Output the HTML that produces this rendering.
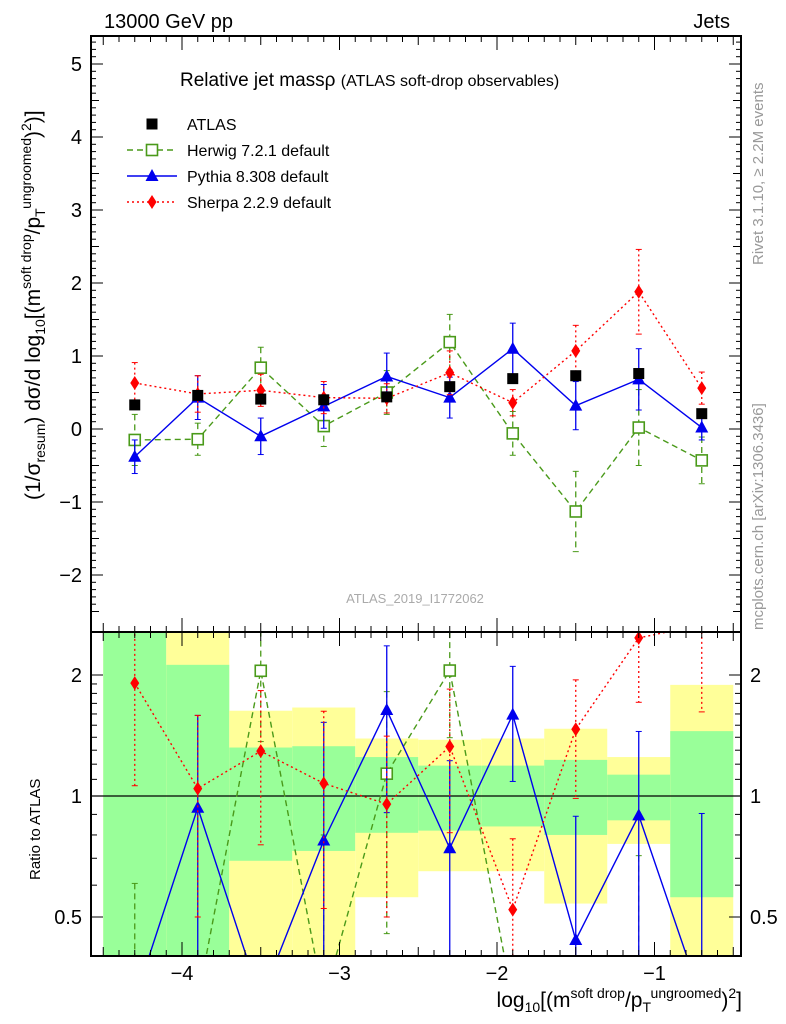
<!DOCTYPE html>
<html><head><meta charset="utf-8"><style>
html,body{margin:0;padding:0;background:#fff;width:786px;height:1024px;overflow:hidden}
svg{display:block;font-family:"Liberation Sans",sans-serif}
</style></head><body>
<svg id="c" width="786" height="1024" xmlns="http://www.w3.org/2000/svg" style="overflow:hidden">
<defs>
<clipPath id="mainClip"><rect x="91" y="36" width="650" height="596"/></clipPath>
<clipPath id="ratioClip"><rect x="91" y="633" width="650" height="323"/></clipPath>
</defs>
<g id="bands" clip-path="url(#ratioClip)"></g>
<g id="grid"></g>
<g id="mainSeries" clip-path="url(#mainClip)"></g>
<g id="ratioSeries" clip-path="url(#ratioClip)"></g>
<g id="axes"></g>
<text x="104" y="28" font-size="20">13000 GeV pp</text>
<text x="730" y="28" font-size="20" text-anchor="end">Jets</text>
<text x="180" y="86" font-size="19">Relative jet massρ <tspan font-size="16">(ATLAS soft-drop observables)</tspan></text>
<text x="415" y="603" font-size="13" fill="#aaa" text-anchor="middle">ATLAS_2019_I1772062</text>
<text transform="translate(763,265) rotate(-90)" font-size="15" fill="#999">Rivet 3.1.10, ≥ 2.2M events</text>
<text transform="translate(763,630) rotate(-90)" font-size="15" fill="#999">mcplots.cern.ch [arXiv:1306.3436]</text>
<text transform="translate(40,500) rotate(-90)" font-size="21">(1/σ<tspan font-size="14" dy="5">resum</tspan><tspan dy="-5">) dσ/d log</tspan><tspan font-size="14" dy="5">10</tspan><tspan dy="-5">[(m</tspan><tspan font-size="14" dy="-9">soft drop</tspan><tspan dy="9">/p</tspan><tspan font-size="14" dy="5">T</tspan><tspan font-size="14" dy="-14">ungroomed</tspan><tspan dy="9">)</tspan><tspan font-size="14" dy="-9">2</tspan><tspan dy="9">)]</tspan></text>
<text transform="translate(40,880) rotate(-90)" font-size="15">Ratio to ATLAS</text>
<text x="742" y="1007" font-size="21" text-anchor="end">log<tspan font-size="14" dy="5">10</tspan><tspan dy="-5">[(m</tspan><tspan font-size="14" dy="-9">soft drop</tspan><tspan dy="9">/p</tspan><tspan font-size="14" dy="5">T</tspan><tspan font-size="14" dy="-14">ungroomed</tspan><tspan dy="9">)</tspan><tspan font-size="14" dy="-9">2</tspan><tspan dy="9">]</tspan></text>
<g id="legend"></g>
</svg>
<script>
const xCenters=[-4.3,-3.9,-3.5,-3.1,-2.7,-2.3,-1.9,-1.5,-1.1,-0.7];
const binEdges=[-4.5,-4.1,-3.7,-3.3,-2.9,-2.5,-2.1,-1.7,-1.3,-0.9,-0.5];
const atlasVals=[0.33,0.46,0.41,0.40,0.44,0.58,0.69,0.73,0.76,0.21];
const herwigVals=[-0.15,-0.14,0.84,0.04,0.50,1.19,-0.06,-1.13,0.02,-0.43];
const herwigErr=[0.35,0.22,0.28,0.28,0.30,0.38,0.30,0.55,0.52,0.32];
const pythiaVals=[-0.38,0.43,-0.10,0.31,0.72,0.43,1.10,0.32,0.68,0.02];
const pythiaErr=[0.23,0.30,0.25,0.30,0.32,0.28,0.35,0.33,0.42,0.17];
const sherpaVals=[0.63,0.48,0.53,0.43,0.42,0.77,0.36,1.07,1.88,0.56];
const sherpaErr=[0.28,0.25,0.22,0.22,0.20,0.30,0.18,0.35,0.58,0.22];
const greenLo=[0.1,0.1,0.69,0.73,0.81,0.82,0.84,0.80,0.87,0.56];
const greenHi=[10,2.12,1.32,1.33,1.25,1.19,1.19,1.23,1.13,1.45];
const yellowLo=[0.1,0.1,0.1,0.1,0.56,0.65,0.65,0.54,0.76,0.1];
const yellowHi=[10,10,1.63,1.66,1.39,1.38,1.39,1.47,1.25,1.89];
const mainTicks=[-2,-1,0,1,2,3,4,5];
const ratioTicks=[0.5,1,2];
const xTicks=[-4,-3,-2,-1];

const NS="http://www.w3.org/2000/svg";
const X=v=>182+(v+4)*157.5;
const clampY=y=>Math.max(0,Math.min(1000,y));
const Y=v=>clampY(429-v*73);
const R=v=>v>0?clampY(796-Math.log2(v)*121):1000;
function el(tag,attrs,parent){const e=document.createElementNS(NS,tag);for(const k in attrs)e.setAttribute(k,attrs[k]);parent.appendChild(e);return e;}
const bands=document.getElementById('bands'),axes=document.getElementById('axes'),grid=document.getElementById('grid');
const ms=document.getElementById('mainSeries'),rs=document.getElementById('ratioSeries'),lg=document.getElementById('legend');

for(let i=0;i<xCenters.length;i++){
  const x0=X(binEdges[i]),x1=X(binEdges[i+1]);
  const y=el('rect',{x:x0,y:R(yellowHi[i]),width:x1-x0,height:R(yellowLo[i])-R(yellowHi[i]),fill:'#ffff99'},bands);
  
  
  const g=el('rect',{x:x0,y:R(greenHi[i]),width:x1-x0,height:R(greenLo[i])-R(greenHi[i]),fill:'#99ff99'},bands);
  
  
}
el('line',{x1:91,x2:741,y1:R(1),y2:R(1),stroke:'#000','stroke-width':1.3},grid);

el('rect',{x:91,y:36,width:650,height:596,fill:'none',stroke:'#000','stroke-width':2},axes);
el('rect',{x:91,y:632,width:650,height:324,fill:'none',stroke:'#000','stroke-width':2},axes);
for(let v=-2.5;v<=5.4;v+=0.1){const yy=429-v*73;if(yy<36||yy>632)continue;const major=Math.abs(v-Math.round(v))<0.01;const minor5=Math.abs(v*2-Math.round(v*2))<0.01;
 const L=major?12:(minor5?8:5);el('line',{x1:91,x2:91+L,y1:yy,y2:yy,stroke:'#000'},axes);el('line',{x1:741,x2:741-L,y1:yy,y2:yy,stroke:'#000'},axes);}
mainTicks.forEach(v=>{const t=el('text',{x:82,y:Y(v)+7,'font-size':20,'text-anchor':'end'},axes);t.textContent=v<0?'−'+(-v):v;});
[0.4,0.5,0.6,0.7,0.8,0.9,1,2].forEach(v=>{const yy=R(v);const L=(v==0.5||v==1||v==2)?12:6;el('line',{x1:91,x2:91+L,y1:yy,y2:yy,stroke:'#000'},axes);el('line',{x1:741,x2:741-L,y1:yy,y2:yy,stroke:'#000'},axes);});
[1.1,1.2,1.3,1.4,1.5,1.6,1.7,1.8,1.9].forEach(v=>{const yy=R(v);el('line',{x1:91,x2:97,y1:yy,y2:yy,stroke:'#000'},axes);el('line',{x1:741,x2:735,y1:yy,y2:yy,stroke:'#000'},axes);});
ratioTicks.forEach(v=>{const t=el('text',{x:82,y:R(v)+7,'font-size':20,'text-anchor':'end'},axes);t.textContent=v;
 const t2=el('text',{x:750,y:R(v)+7,'font-size':20},axes);t2.textContent=v;});
for(let v=-4.5;v<=-0.45;v+=0.1){const xx=X(v);if(xx<91||xx>741)continue;const major=Math.abs(v-Math.round(v))<0.01;const mid=Math.abs(v*2-Math.round(v*2))<0.01;const L=major?14:(mid?9:6);
 [36,632].forEach(y0=>el('line',{x1:xx,x2:xx,y1:y0,y2:y0+L,stroke:'#000'},axes));
 [632,956].forEach(y0=>el('line',{x1:xx,x2:xx,y1:y0,y2:y0-L,stroke:'#000'},axes));}
xTicks.forEach(v=>{const t=el('text',{x:X(v),y:980,'font-size':20,'text-anchor':'middle'},axes);t.textContent='−'+(-v);});

function marker(kind,x,y,color,parent){
 let m;
 if(kind==='sq') m=el('rect',{x:x-5.5,y:y-5.5,width:11,height:11,fill:'#000'},parent);
 else if(kind==='osq') m=el('rect',{x:x-5.5,y:y-5.5,width:11,height:11,fill:'#fff',stroke:color,'stroke-width':1.6},parent);
 else if(kind==='tri') m=el('polygon',{points:`${x},${y-7} ${x-6.5},${y+5} ${x+6.5},${y+5}`,fill:color},parent);
 else m=el('polygon',{points:`${x},${y-7} ${x-4.5},${y} ${x},${y+7} ${x+4.5},${y}`,fill:color},parent);
 return m;
}
function series(name,vals,errs,color,dash,kind,sy,parent,ratio){
 const pts=xCenters.map((x,i)=>[X(x),sy(ratio?vals[i]/atlasVals[i]:vals[i])]);
 const pl=el('polyline',{points:pts.map(p=>p.join(',')).join(' '),fill:'none',stroke:color,'stroke-width':1.4,'stroke-dasharray':dash},parent);
 
 
 xCenters.forEach((x,i)=>{
  const v=vals[i],e=errs[i],d=ratio?atlasVals[i]:1;
  const lo=sy((v-e)/d),hi=sy((v+e)/d);
  const xx=X(x);
  el('line',{x1:xx,x2:xx,y1:hi,y2:lo,stroke:color,'stroke-width':1.3,'stroke-dasharray':dash},parent);
  el('line',{x1:xx-3,x2:xx+3,y1:hi,y2:hi,stroke:color},parent);
  el('line',{x1:xx-3,x2:xx+3,y1:lo,y2:lo,stroke:color},parent);
  const m=marker(kind,xx,pts[i][1],color,parent);
  
  
 });
}
series('herwig',herwigVals,herwigErr,'#4a9a1a','6,4','osq',Y,ms,false);
series('pythia',pythiaVals,pythiaErr,'#0000ee','','tri',Y,ms,false);
series('sherpa',sherpaVals,sherpaErr,'#ff0000','2,3','dia',Y,ms,false);
xCenters.forEach((x,i)=>{const m=marker('sq',X(x),Y(atlasVals[i]),'#000',ms);});
series('herwig-ratio',herwigVals,herwigErr,'#4a9a1a','6,4','osq',R,rs,true);
series('pythia-ratio',pythiaVals,pythiaErr,'#0000ee','','tri',R,rs,true);
series('sherpa-ratio',sherpaVals,sherpaErr,'#ff0000','2,3','dia',R,rs,true);

const leg=[['ATLAS','sq','#000',''],['Herwig 7.2.1 default','osq','#4a9a1a','6,4'],['Pythia 8.308 default','tri','#0000ee',''],['Sherpa 2.2.9 default','dia','#ff0000','2,3']];
leg.forEach((l,i)=>{const y=124+i*26;
 if(i>0){el('line',{x1:127,x2:177,y1:y,y2:y,stroke:l[2],'stroke-width':1.4,'stroke-dasharray':l[3]},lg);}
 const m=marker(l[1],152,y,l[2],lg);
 const t=el('text',{x:187,y:y+6,'font-size':16},lg);t.textContent=l[0];
 
 
});
</script>
</body></html>
